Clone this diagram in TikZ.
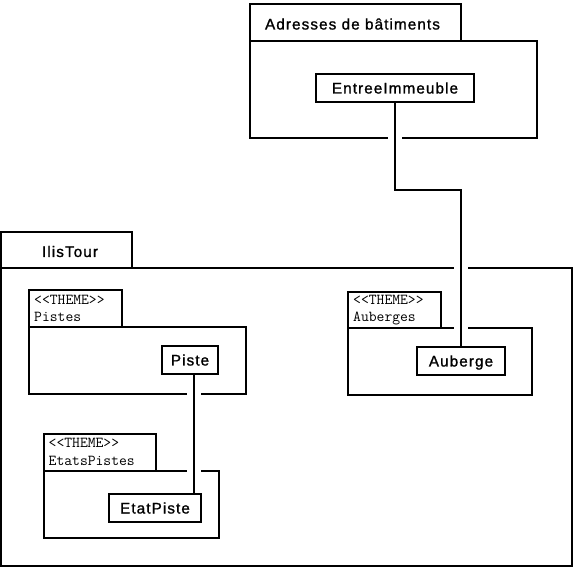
\documentclass[tikz,border=0pt]{standalone}
\usepackage{fontspec}
\usetikzlibrary{fit}
\newfontfamily\lblfont[LetterSpace=7,FakeBold=1.2]{Liberation Sans}
\tikzset{
  pkg/.style={draw=black, line width=2pt, inner sep=0pt, outer sep=0pt},
  cls/.style={draw=black, fill=white, line width=2pt, inner sep=0pt, outer sep=0pt,
    text height=11pt, text depth=0pt, font=\lblfont\fontsize{15.3}{18}\selectfont},
  title/.style={anchor=base, inner sep=0pt, font=\lblfont\fontsize{15.3}{18}\selectfont},
  stereo/.style={anchor=base west, inner sep=0pt, font=\ttfamily\fontsize{15.2}{17}\selectfont},
  conn/.style={draw=black, line width=2pt,
    preaction={draw=white, line width=14pt, shorten <=5pt, shorten >=5pt}}
}
\begin{document}
\begin{tikzpicture}[x=1pt,y=-1pt]
\useasboundingbox[fill=white] (0,0) rectangle (574,567);
% Adresses de batiments package
\node[pkg, fit={(250,4) (461,41)}] (adrTab) {};
\node[pkg, fit={(250,41) (537,138)}] (adrBody) {};
\node[title] (adrLbl) at (352.5,29.5) {Adresses de bâtiments};
% IlisTour package
\node[pkg, fit={(1,232) (132,268)}] (ilisTab) {};
\node[pkg, fit={(1,268) (572,566)}] (ilisBody) {};
\node[title] (ilisLbl) at (70,257) {IlisTour};
% Pistes
\node[pkg, fit={(29,290) (122,327)}] (pisTab) {};
\node[pkg, fit={(29,327) (246,394)}] (pisBody) {};
\node[stereo] (pisS) at (34,304.3) {\textless\textless THEME\textgreater\textgreater};
\node[stereo] (pisN) at (34,321.7) {Pistes};
% Auberges
\node[pkg, fit={(348,292) (441,328)}] (aubTab) {};
\node[pkg, fit={(348,328) (532,395)}] (aubBody) {};
\node[stereo] (aubS) at (353,305) {\textless\textless THEME\textgreater\textgreater};
\node[stereo] (aubN) at (353,322) {Auberges};
% EtatsPistes
\node[pkg, fit={(44,434) (156,471)}] (etsTab) {};
\node[pkg, fit={(44,471) (219,538)}] (etsBody) {};
\node[stereo] (etsS) at (48.5,447.5) {\textless\textless THEME\textgreater\textgreater};
\node[stereo] (etsN) at (48.5,465.5) {EtatsPistes};
% classes
\node[cls, minimum width=158pt, minimum height=28pt] (entree) at (395,88) {EntreeImmeuble};
\node[cls, minimum width=56pt, minimum height=28pt] (piste) at (190,360) {Piste};
\node[cls, minimum width=88pt, minimum height=28pt] (auberge) at (461,361) {Auberge};
\node[cls, minimum width=92pt, minimum height=28pt] (etat) at (155,508) {EtatPiste};
% connectors
\coordinate (bend) at (0,190);
\coordinate (pline) at (194,0);
\draw[conn] (entree.south) -- (entree.south |- bend) -| (auberge.north);
\draw[conn] (piste.south -| pline) -- (etat.north -| pline);
\end{tikzpicture}
\end{document}
